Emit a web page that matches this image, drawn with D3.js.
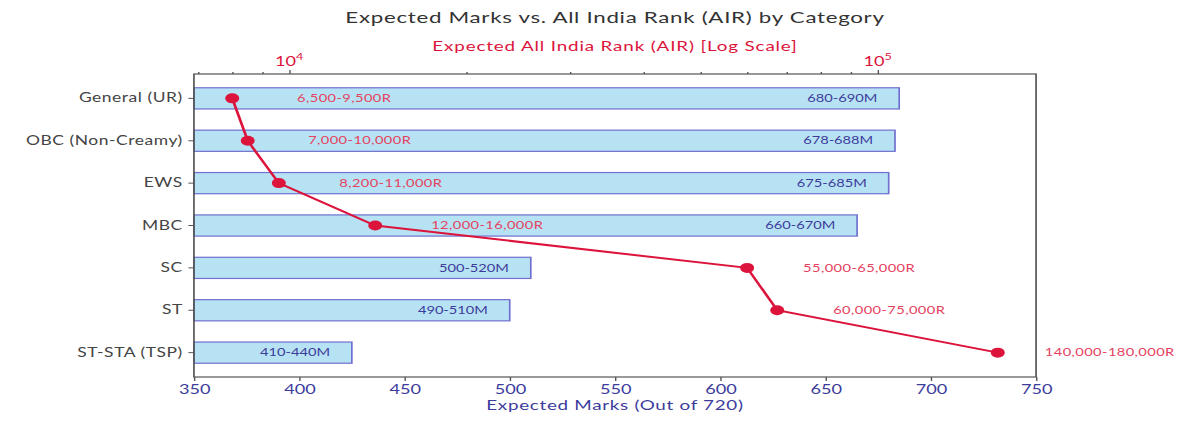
<!DOCTYPE html>
<meta charset="utf-8">
<style>
body { margin: 0; background: #fff; }
svg { display: block; font-family: Lato, sans-serif; }
.axis path, .axis line { stroke: #555; }
</style>
<body>
<svg width="1200" height="422" viewBox="0 0 860 422" preserveAspectRatio="none"></svg>
<script src="https://cdn.jsdelivr.net/npm/d3@7"></script>
<script>
// data
var categories = ["General (UR)", "OBC (Non-Creamy)", "EWS", "MBC", "SC", "ST", "ST-STA (TSP)"];
var marks = [685, 683, 680, 665, 510, 500, 425];
var markLabels = ["680-690M", "678-688M", "675-685M", "660-670M", "500-520M", "490-510M", "410-440M"];
var ranks = [8000, 8500, 9600, 14000, 60000, 67500, 160000];
var rankLabels = ["6,500-9,500R", "7,000-10,000R", "8,200-11,000R", "12,000-16,000R",
                  "55,000-65,000R", "60,000-75,000R", "140,000-180,000R"];
var markTicks = [350, 400, 450, 500, 550, 600, 650, 700, 750];
var rankMajor = [1e4, 1e5];
var rankMinor = [7000, 8000, 9000, 20000, 30000, 40000, 50000, 60000, 70000, 80000, 90000];

var svg = d3.select("svg"),
    margin = {top: 74, left: 139, right: 117.5, bottom: 45},
    W = 860, H = 422,
    x0 = margin.left, x1 = W - margin.right,
    y0 = margin.top, y1 = H - margin.bottom;

var rows = categories.map(function(c, i) {
  return {cat: c, mark: marks[i], ml: markLabels[i], rank: ranks[i], rl: rankLabels[i]};
});

var x = d3.scaleLinear().domain([350, 750]).range([x0, x1]);
var y = d3.scaleBand().domain(categories).range([y0, y1]).paddingInner(0.5).paddingOuter(0.325);

// log axis with 5% margins in log space, like matplotlib autoscale
var lo = Math.log10(d3.min(ranks)), hi = Math.log10(d3.max(ranks)), pad = 0.05 * (hi - lo);
var xr = d3.scaleLog().domain([Math.pow(10, lo - pad), Math.pow(10, hi + pad)]).range([x0, x1]);

// bars
svg.selectAll(".bar")
  .data(rows)
  .enter().append("rect")
    .attr("class", "bar")
    .attr("x", x(350))
    .attr("y", function(d) { return y(d.cat); })
    .attr("width", function(d) { return x(d.mark) - x(350); })
    .attr("height", y.bandwidth())
    .attr("fill", "#b7e2f3")
    .attr("stroke", "#6f6fd0")
    .attr("stroke-width", 1.2);

svg.selectAll(".mlabel")
  .data(rows)
  .enter().append("text")
    .attr("x", function(d) { return x(d.mark - 27); })
    .attr("y", function(d) { return y(d.cat) + y.bandwidth() / 2; })
    .attr("dy", "0.35em")
    .attr("text-anchor", "middle")
    .attr("font-size", 10.5)
    .attr("fill", "#3c3c9c")
    .text(function(d) { return d.ml; });

// rank line
var line = d3.line()
  .x(function(d) { return xr(d.rank); })
  .y(function(d) { return y(d.cat) + y.bandwidth() / 2; });

svg.append("path")
  .datum(rows)
  .attr("d", line)
  .attr("fill", "none")
  .attr("stroke", "#dc143c")
  .attr("stroke-width", 2);

svg.selectAll(".dot")
  .data(rows)
  .enter().append("circle")
    .attr("cx", function(d) { return xr(d.rank); })
    .attr("cy", function(d) { return y(d.cat) + y.bandwidth() / 2; })
    .attr("r", 5)
    .attr("fill", "#dc143c");

svg.selectAll(".rlabel")
  .data(rows)
  .enter().append("text")
    .attr("x", function(d) { return xr(d.rank * 1.55); })
    .attr("y", function(d) { return y(d.cat) + y.bandwidth() / 2; })
    .attr("dy", "0.35em")
    .attr("text-anchor", "middle")
    .attr("font-size", 10.5)
    .attr("letter-spacing", 0.3)
    .attr("fill", "#e4425f")
    .text(function(d) { return d.rl; });

// frame
svg.append("rect")
  .attr("x", x0).attr("y", y0)
  .attr("width", x1 - x0).attr("height", y1 - y0)
  .attr("fill", "none").attr("stroke", "#555").attr("stroke-width", 1.2);

// bottom axis
var gx = svg.append("g")
  .attr("class", "axis")
  .attr("transform", "translate(0," + y1 + ")")
  .call(d3.axisBottom(x).tickValues(markTicks).tickSize(4).tickPadding(4).tickSizeOuter(0));
gx.select(".domain").remove();
gx.selectAll("text").attr("font-size", 13).attr("fill", "#3c3c9c").attr("font-family", "Lato, sans-serif");

svg.append("text")
  .attr("x", (x0 + x1) / 2).attr("y", 410)
  .attr("text-anchor", "middle")
  .attr("font-size", 13.5)
  .attr("letter-spacing", 0.5)
  .attr("fill", "#3c3c9c")
  .text("Expected Marks (Out of 720)");

// left axis
var gy = svg.append("g")
  .attr("class", "axis")
  .attr("transform", "translate(" + x0 + ",0)")
  .call(d3.axisLeft(y).tickSize(4).tickPadding(4).tickSizeOuter(0));
gy.select(".domain").remove();
gy.selectAll("text").attr("font-size", 12.5).attr("letter-spacing", 0.4)
  .attr("fill", "#444").attr("font-family", "Lato, sans-serif");

// top log axis
var gt = svg.append("g")
  .attr("class", "axis")
  .attr("transform", "translate(0," + y0 + ")");
gt.call(d3.axisTop(xr).tickValues(rankMinor).tickSize(2).tickFormat("").tickSizeOuter(0));
gt.select(".domain").remove();
var gtm = svg.append("g")
  .attr("class", "axis")
  .attr("transform", "translate(0," + y0 + ")")
  .call(d3.axisTop(xr).tickValues(rankMajor).tickSize(4).tickFormat("").tickSizeOuter(0));
gtm.select(".domain").remove();

var sup = svg.selectAll(".sup")
  .data(rankMajor)
  .enter().append("text")
    .attr("x", function(d) { return xr(d); })
    .attr("y", y0 - 8)
    .attr("text-anchor", "middle")
    .attr("font-size", 13)
    .attr("fill", "#dc143c");
sup.append("tspan").text("10");
sup.append("tspan")
  .attr("dy", -6)
  .attr("font-size", 9)
  .text(function(d) { return Math.round(Math.log10(d)); });

svg.append("text")
  .attr("x", (x0 + x1) / 2).attr("y", 51)
  .attr("text-anchor", "middle")
  .attr("font-size", 13.5)
  .attr("letter-spacing", 0.6)
  .attr("fill", "#dc143c")
  .text("Expected All India Rank (AIR) [Log Scale]");

svg.append("text")
  .attr("x", (x0 + x1) / 2).attr("y", 23)
  .attr("text-anchor", "middle")
  .attr("font-size", 16)
  .attr("letter-spacing", 0.5)
  .attr("fill", "#333")
  .text("Expected Marks vs. All India Rank (AIR) by Category");
</script>
</body>
